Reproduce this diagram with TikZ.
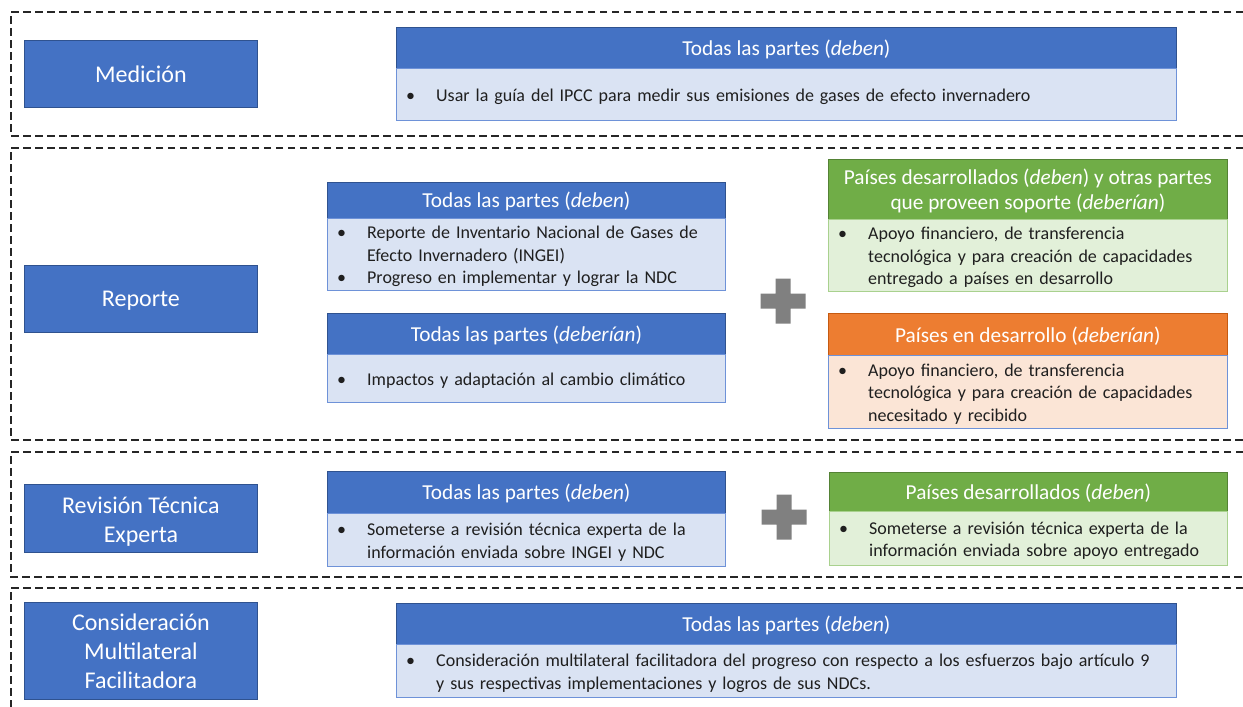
\documentclass[tikz,border=0pt]{standalone}
\usepackage{fontspec}
\setmainfont{Carlito}
\definecolor{bl}{HTML}{4472C4}
\definecolor{bldark}{HTML}{2F528F}
\definecolor{blbody}{HTML}{DAE3F3}
\definecolor{blline}{HTML}{6E92D8}
\definecolor{gr}{HTML}{70AD47}
\definecolor{grdark}{HTML}{548235}
\definecolor{grbody}{HTML}{E2F0D9}
\definecolor{grline}{HTML}{A9D18E}
\definecolor{orh}{HTML}{ED7D31}
\definecolor{ordark}{HTML}{C55A11}
\definecolor{orbody}{HTML}{FBE5D6}
\definecolor{plusgray}{HTML}{808080}
\definecolor{txt}{HTML}{1F1F1F}
\newcommand\hfont{\fontsize{21.3}{25.5}\selectfont}
\newcommand\bfont{\fontsize{18}{22.5}\selectfont\spaceskip=6pt\relax}
\newcommand\lfont{\fontsize{24}{29}\selectfont}
\tikzset{
  sect/.style={draw=black!85, line width=1.1pt, dash pattern=on 7.5pt off 4.5pt},
  lbl/.style={draw=bldark, fill=bl, line width=0.8pt, anchor=north west, inner sep=0pt},
  ltxt/.style={text=white, font=\lfont, align=center, inner sep=0pt},
  hdr/.style={draw=bldark, fill=bl, line width=0.8pt, anchor=north west, inner sep=0pt},
  hdrg/.style={hdr, draw=grdark, fill=gr},
  hdro/.style={hdr, draw=ordark, fill=orh},
  htxt/.style={text=white, font=\hfont, align=center, inner sep=0pt},
  bdy/.style={draw=blline, fill=blbody, line width=0.8pt, anchor=north west, inner sep=0pt},
  bdyg/.style={bdy, draw=grline, fill=grbody},
  bdyo/.style={bdy, draw=blline, fill=orbody},
  btxt/.style={text=txt, font=\bfont, align=left, anchor=west, inner sep=0pt},
  plus/.style={fill=plusgray}
}
\newcommand\plusat[2]{\fill[plus] (#1-22.5,#2-7.5) -- (#1-7.5,#2-7.5) -- (#1-7.5,#2-22.5) -- (#1+7.5,#2-22.5) -- (#1+7.5,#2-7.5) -- (#1+22.5,#2-7.5) -- (#1+22.5,#2+7.5) -- (#1+7.5,#2+7.5) -- (#1+7.5,#2+22.5) -- (#1-7.5,#2+22.5) -- (#1-7.5,#2+7.5) -- (#1-22.5,#2+7.5) -- cycle;}
\newcommand\hpos[1]{([yshift=-1.5pt]#1.center)}
\newcommand\bpos[1]{([xshift=10pt,yshift=-2.5pt]#1.west)}
\begin{document}
\begin{tikzpicture}[x=1pt,y=-1pt]
\useasboundingbox[fill=white] (0,0) rectangle (1243,707);
% section frames
\draw[sect] (1243,12) -| (11,136) -- (1243,136);
\draw[sect] (1243,148) -| (11,440) -- (1243,440);
\draw[sect] (1243,452) -| (11,577) -- (1243,577);
\draw[sect] (1243,588) -| (11,720);
% left labels
\node[lbl, minimum width=233pt, minimum height=67pt] (L1) at (24,40) {};
\node[ltxt] (L1t) at (L1.center) {Medición};
\node[lbl, minimum width=233pt, minimum height=67pt] (L2) at (24,265) {};
\node[ltxt] (L2t) at ([yshift=-2pt]L2.center) {Reporte};
\node[lbl, minimum width=233pt, minimum height=68pt] (L3) at (24,484) {};
\node[ltxt] (L3t) at ([yshift=-3.5pt]L3.center) {Revisión Técnica\\Experta};
\node[lbl, minimum width=233pt, minimum height=97pt] (L4) at (24,602) {};
\node[ltxt] (L4t) at (L4.center) {Consideración\\Multilateral\\Facilitadora};
% Medicion box
\node[hdr, minimum width=780pt, minimum height=41pt] (m1h) at (396,27) {};
\node[htxt] (m1ht) at \hpos{m1h} {Todas las partes (\textit{deben})};
\node[bdy, minimum width=780pt, minimum height=52pt] (m1b) at (396,68) {};
\node[btxt] (m1bt) at \bpos{m1b} {\begin{tabular}{@{}p{30pt}@{}l@{}}\textbullet & Usar la guía del IPCC para medir sus emisiones de gases de efecto invernadero\end{tabular}};
% Reporte A
\node[hdr, minimum width=398pt, minimum height=36pt] (r1h) at (327,182) {};
\node[htxt] (r1ht) at \hpos{r1h} {Todas las partes (\textit{deben})};
\node[bdy, minimum width=398pt, minimum height=72pt] (r1b) at (327,218) {};
\node[btxt] (r1bt) at \bpos{r1b} {\begin{tabular}{@{}p{30pt}@{}l@{}}\textbullet & Reporte de Inventario Nacional de Gases de\\ & Efecto Invernadero (INGEI)\\ \textbullet & Progreso en implementar y lograr la NDC\end{tabular}};
% Reporte B
\node[hdr, minimum width=398pt, minimum height=41pt] (r2h) at (327,313) {};
\node[htxt] (r2ht) at \hpos{r2h} {Todas las partes (\textit{deberían})};
\node[bdy, minimum width=398pt, minimum height=48pt] (r2b) at (327,354) {};
\node[btxt] (r2bt) at \bpos{r2b} {\begin{tabular}{@{}p{30pt}@{}l@{}}\textbullet & Impactos y adaptación al cambio climático\end{tabular}};
% Green
\node[hdrg, minimum width=399pt, minimum height=60pt] (g1h) at (828,159) {};
\node[htxt] (g1ht) at \hpos{g1h} {Países desarrollados (\textit{deben}) y otras partes\\que proveen soporte (\textit{deberían})};
\node[bdyg, minimum width=399pt, minimum height=72pt] (g1b) at (828,219) {};
\node[btxt] (g1bt) at \bpos{g1b} {\begin{tabular}{@{}p{30pt}@{}l@{}}\textbullet & Apoyo financiero, de transferencia\\ & tecnológica y para creación de capacidades\\ & entregado a países en desarrollo\end{tabular}};
% Orange
\node[hdro, minimum width=399pt, minimum height=42pt] (o1h) at (828,313) {};
\node[htxt] (o1ht) at \hpos{o1h} {Países en desarrollo (\textit{deberían})};
\node[bdyo, minimum width=399pt, minimum height=73pt] (o1b) at (828,355) {};
\node[btxt] (o1bt) at \bpos{o1b} {\begin{tabular}{@{}p{30pt}@{}l@{}}\textbullet & Apoyo financiero, de transferencia\\ & tecnológica y para creación de capacidades\\ & necesitado y recibido\end{tabular}};
\plusat{783}{301}
% Revision A
\node[hdr, minimum width=398pt, minimum height=42pt] (t1h) at (327,471) {};
\node[htxt] (t1ht) at \hpos{t1h} {Todas las partes (\textit{deben})};
\node[bdy, minimum width=398pt, minimum height=53pt] (t1b) at (327,513) {};
\node[btxt] (t1bt) at \bpos{t1b} {\begin{tabular}{@{}p{30pt}@{}l@{}}\textbullet & Someterse a revisión técnica experta de la\\ & información enviada sobre INGEI y NDC\end{tabular}};
% Revision green
\node[hdrg, minimum width=398pt, minimum height=39pt] (t2h) at (829,472) {};
\node[htxt] (t2ht) at \hpos{t2h} {Países desarrollados (\textit{deben})};
\node[bdyg, minimum width=398pt, minimum height=54pt] (t2b) at (829,511) {};
\node[btxt] (t2bt) at \bpos{t2b} {\begin{tabular}{@{}p{30pt}@{}l@{}}\textbullet & Someterse a revisión técnica experta de la\\ & información enviada sobre apoyo entregado\end{tabular}};
\plusat{784}{517}
% Bottom
\node[hdr, minimum width=780pt, minimum height=41pt] (c1h) at (396,603) {};
\node[htxt] (c1ht) at \hpos{c1h} {Todas las partes (\textit{deben})};
\node[bdy, minimum width=780pt, minimum height=53pt] (c1b) at (396,644) {};
\node[btxt] (c1bt) at \bpos{c1b} {\begin{tabular}{@{}p{30pt}@{}l@{}}\textbullet & Consideración multilateral facilitadora del progreso con respecto a los esfuerzos bajo artículo 9\\ & y sus respectivas implementaciones y logros de sus NDCs.\end{tabular}};
\end{tikzpicture}
\end{document}
